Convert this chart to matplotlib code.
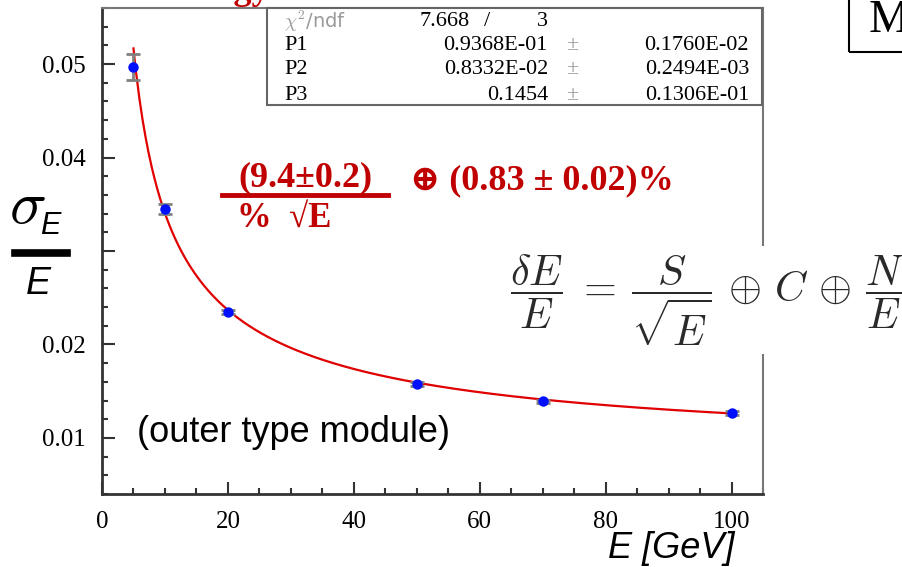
import numpy as np
import matplotlib.pyplot as plt
from matplotlib.patches import Rectangle
from matplotlib.lines import Line2D
from matplotlib.ticker import MultipleLocator

plt.rcParams['font.family'] = ['Liberation Serif', 'DejaVu Serif']
plt.rcParams['mathtext.fontset'] = 'cm'

W, H = 902, 567   # target size in pixels

energy = [5, 10, 20, 50, 70, 100]
sigma_over_e = [0.0497, 0.0345, 0.0235, 0.0158, 0.0139, 0.0127]
sigma_err = [0.0014, 0.0005, 0.0002, 0.0002, 0.0002, 0.0002]

# fit parameters as printed in the stats box
p1, p2, p3 = 0.09368, 0.008332, 0.1454
stat_labels = ["P1", "P2", "P3"]
stat_values = ["0.9368E-01", "0.8332E-02", "0.1454"]
stat_errors = ["0.1760E-02", "0.2494E-03", "0.1306E-01"]
chi2_value, ndf_value = "7.668", "3"

x_ticks = [0, 20, 40, 60, 80, 100]
y_ticks = [0.01, 0.02, 0.03, 0.04, 0.05]
y_tick_labels = ["0.01", "0.02", "", "0.04", "0.05"]

red = '#c00000'


def fx(x):
    return x / W


def fy(y):
    return 1 - y / H


fig = plt.figure(figsize=(W / 100, H / 100), dpi=100)
ax = fig.add_axes([fx(102), fy(494), (763 - 102) / W, (494 - 8) / H])

# fit curve S/sqrt(E) (+) C (+) N/E with the printed parameters
e_fit = np.linspace(energy[0], energy[-1], 400)
fit = np.sqrt((p1 / np.sqrt(e_fit)) ** 2 + p2 ** 2 + (p3 / e_fit) ** 2)
ax.plot(e_fit, fit, color='#e00000', lw=1.6, zorder=2)

ax.errorbar(energy, sigma_over_e, yerr=sigma_err, fmt='none', ecolor='#808080',
            elinewidth=2, capsize=5, capthick=2, zorder=3)
ax.plot(energy, sigma_over_e, 'o', color='#0010ff', ms=7.5, mec='none', zorder=4)

ax.set_xlim(0, 105)
ax.set_ylim(0.004, 0.056)
ax.set_xticks(x_ticks)
ax.set_yticks(y_ticks)
ax.set_yticklabels(y_tick_labels)
ax.xaxis.set_minor_locator(MultipleLocator(5))
ax.yaxis.set_minor_locator(MultipleLocator(0.002))
ax.tick_params(which='both', direction='in', top=False, right=False,
               color='#333333', width=1.5, labelsize=18, pad=12)
ax.tick_params(which='major', length=9)
ax.tick_params(which='minor', length=4.5)

for side in ['left', 'bottom']:
    ax.spines[side].set_color('#333333')
    ax.spines[side].set_linewidth(2)
for side in ['top', 'right']:
    ax.spines[side].set_color('#777777')
    ax.spines[side].set_linewidth(1.5)

# stats box
fig.patches.append(Rectangle((fx(267), fy(105)), (762 - 267) / W, (105 - 8) / H,
                             transform=fig.transFigure, fill=True, fc='white',
                             ec='#666666', lw=1.5, zorder=5))
row_y = [21, 46, 70, 95]
fs = 16
fig.text(fx(284), fy(row_y[0]), r'$\chi^2$/ndf', family='DejaVu Sans', color='#9a9a9a',
         fontsize=14, va='center', zorder=6)
fig.text(fx(470), fy(row_y[0]), chi2_value, fontsize=fs, ha='right', va='center', zorder=6)
fig.text(fx(484), fy(row_y[0]), '/', fontsize=fs, ha='left', va='center', zorder=6)
fig.text(fx(548), fy(row_y[0]), ndf_value, fontsize=fs, ha='right', va='center', zorder=6)
for i in range(3):
    y = fy(row_y[i + 1])
    fig.text(fx(284), y, stat_labels[i], fontsize=fs, va='center', zorder=6)
    fig.text(fx(548), y, stat_values[i], fontsize=fs, ha='right', va='center', zorder=6)
    fig.text(fx(566), y, '\u00b1', fontsize=fs, color='#9a9a9a', va='center', zorder=6)
    fig.text(fx(749), y, stat_errors[i], fontsize=fs, ha='right', va='center', zorder=6)

# clipped title fragment and box at the top
fig.text(fx(270), fy(-1), 'Energy', color=red, fontsize=26, weight='bold',
         ha='right', va='baseline')
fig.patches.append(Rectangle((fx(849), fy(52)), 0.2, 0.2, transform=fig.transFigure,
                             fill=False, ec='black', lw=1.5))
fig.text(fx(869), fy(32), 'M', fontsize=33, ha='left', va='baseline')

# red resolution result
fig.text(fx(305), fy(178), '(9.4\u00b10.2)', color=red, fontsize=26, weight='bold',
         ha='center', va='center')
fig.add_artist(Line2D([fx(222), fx(388)], [fy(195), fy(195)], color=red, lw=3.5))
fig.text(fx(284), fy(218), '%  \u221aE', color=red, fontsize=25, weight='bold',
         ha='center', va='center')
fig.text(fx(410), fy(181), '\u2295 (0.83 \u00b1 0.02)%', color=red, fontsize=26,
         weight='bold', ha='left', va='center')

# generic resolution formula
fig.text(fx(510), fy(300),
         r'$\dfrac{\delta E}{E}\;=\:\dfrac{S}{\sqrt{E}}\,\oplus\,C\,\oplus\,\dfrac{N}{E}$',
         fontsize=30.5, color='#2a2a2a', ha='left', va='center',
         bbox=dict(fc='white', ec='none', pad=4))

# y label drawn as sigma_E over E
fig.text(fx(9), fy(207), r'$\sigma$', family='DejaVu Sans', fontsize=44, ha='left',
         va='center', style='italic')
fig.text(fx(40), fy(226), 'E', family='Liberation Sans', fontsize=22, style='italic',
         va='center')
fig.add_artist(Line2D([fx(15), fx(67)], [fy(253), fy(253)], color='black', lw=5.5))
fig.text(fx(38), fy(284), 'E', family='Liberation Sans', fontsize=27, style='italic',
         ha='center', va='center')

fig.text(fx(137), fy(432), '(outer type module)', family='Liberation Sans', fontsize=26,
         ha='left', va='center')
fig.text(fx(735), fy(548), 'E [GeV]', family=['Liberation Sans Narrow', 'Liberation Sans'],
         fontsize=26, style='italic', ha='right', va='center')

fig.savefig('out.png', dpi=100)
